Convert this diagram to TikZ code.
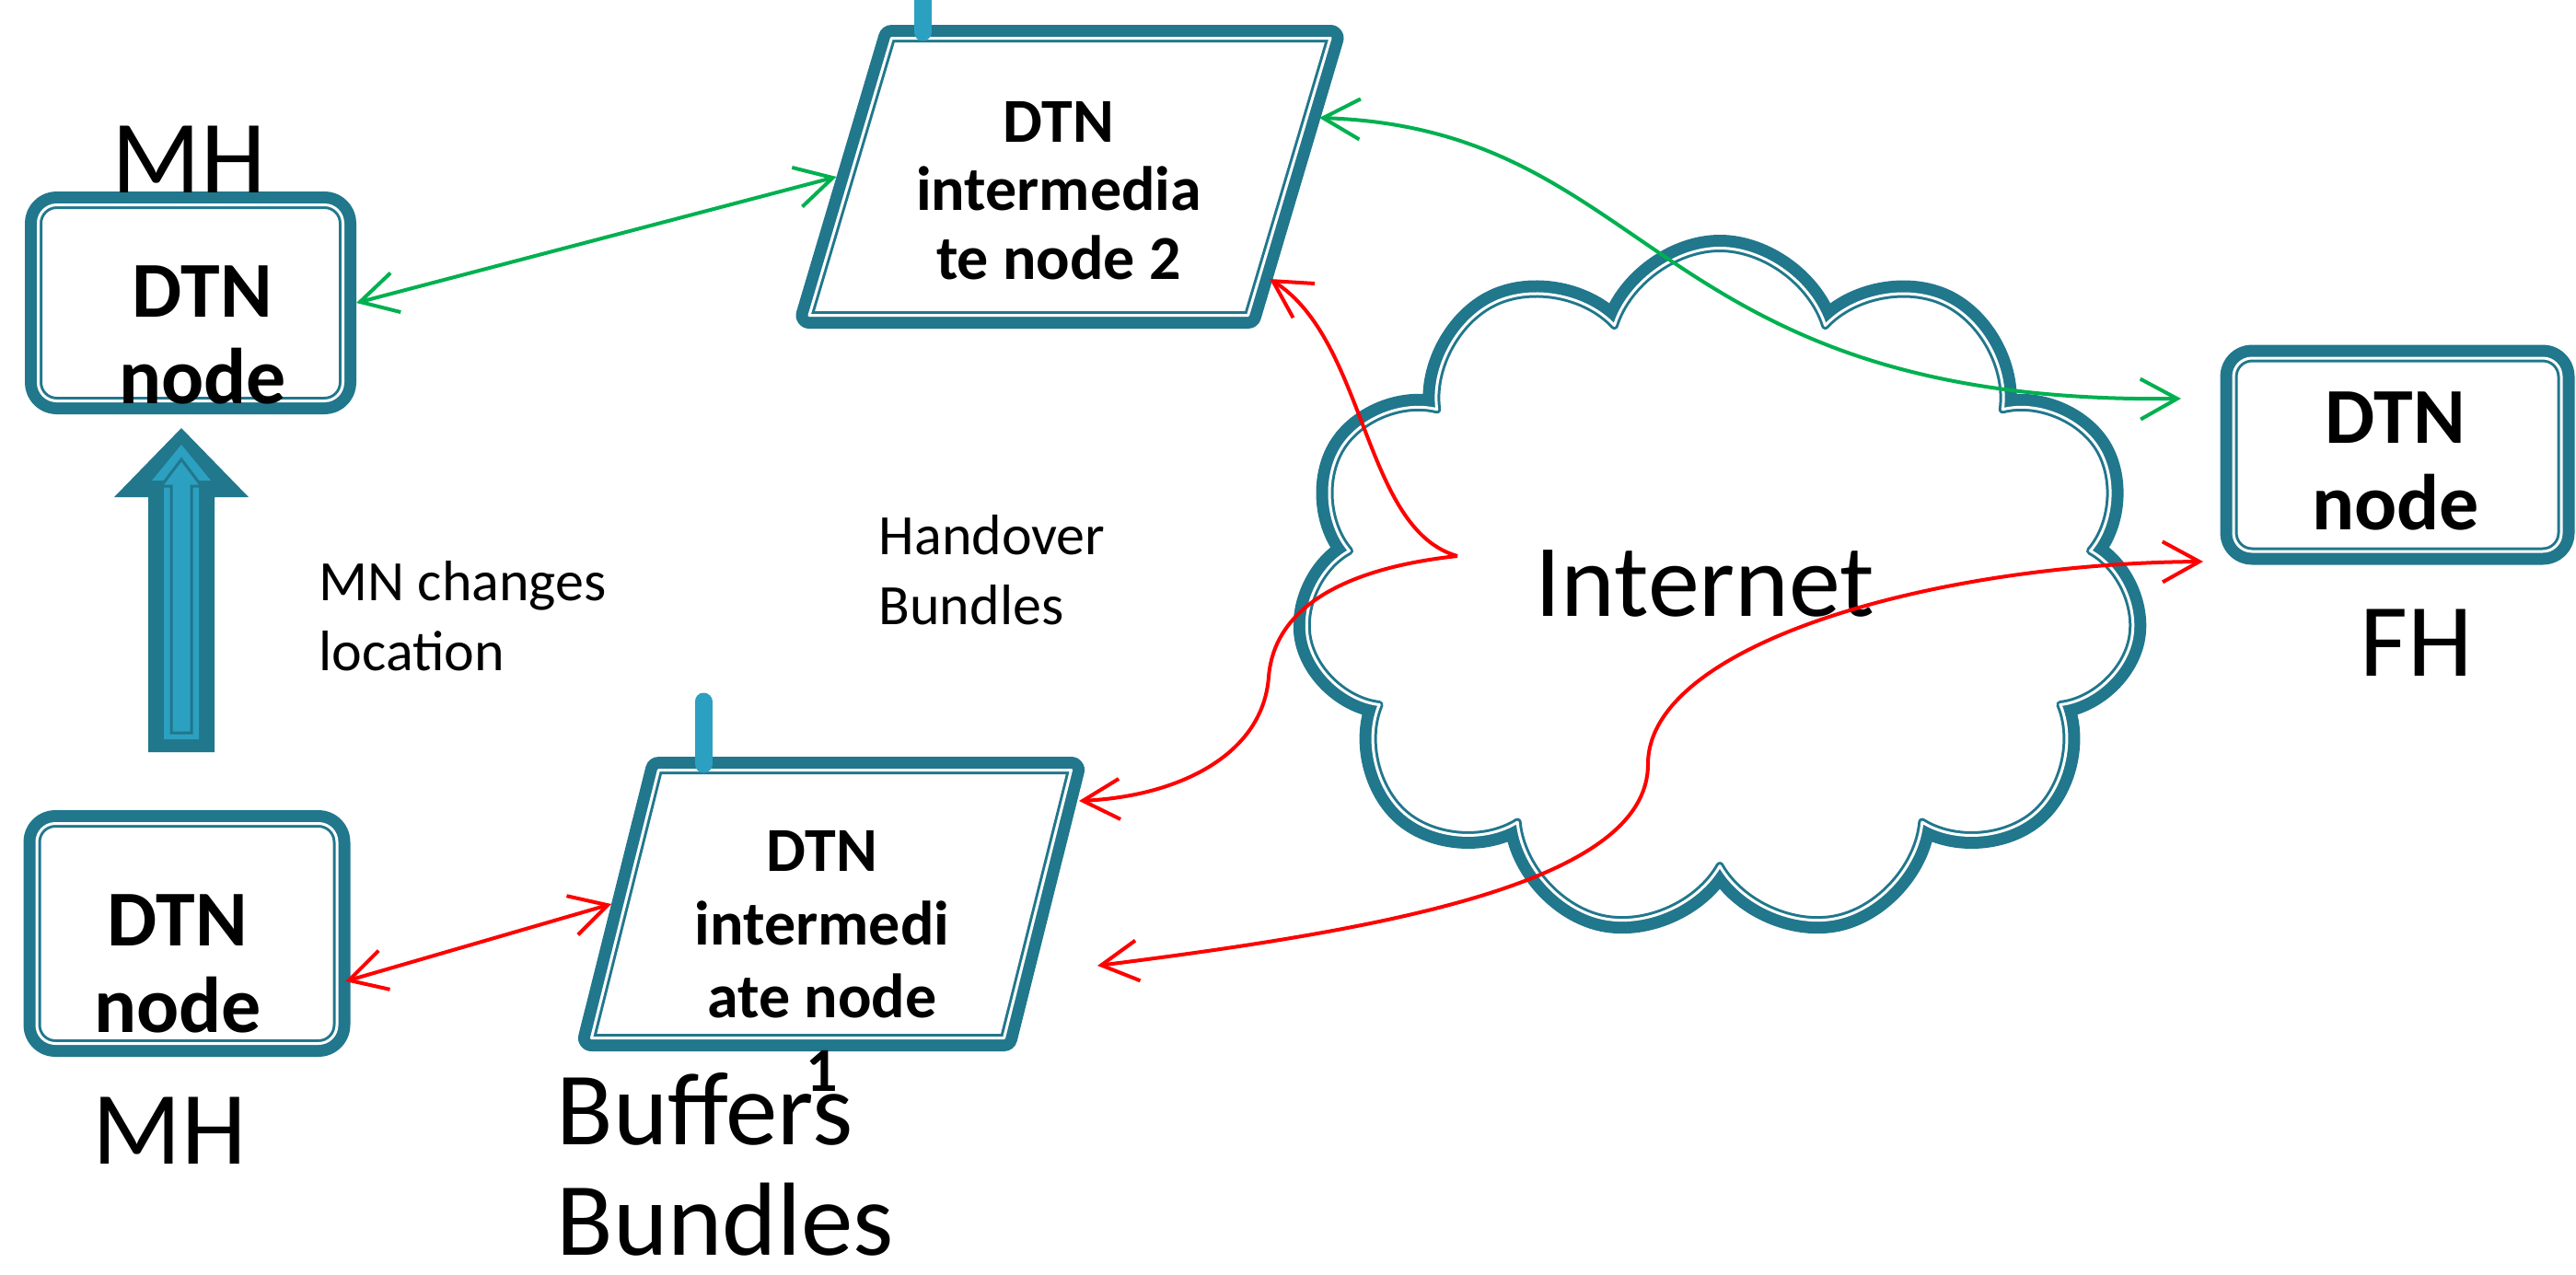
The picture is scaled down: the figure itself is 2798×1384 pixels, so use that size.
\documentclass[tikz,border=0pt]{standalone}
\usepackage{fontspec}
\setmainfont{Carlito}
\usepackage{color}
\definecolor{myteal}{RGB}{33,119,140}
\definecolor{mylightteal}{RGB}{44,160,192}
\definecolor{mygreen}{RGB}{0,176,80}
\definecolor{myred}{RGB}{255,0,0}
\usepackage{tikz}
\usetikzlibrary{shapes.geometric,shapes.symbols,arrows.meta,calc,positioning}

\newcommand{\mylabelfont}{\fontsize{11.3mm}{12mm}\selectfont}
\newcommand{\myboxfont}{\fontsize{8.6mm}{9.35mm}\selectfont\bfseries}
\newcommand{\myparafont}{\fontsize{6.8mm}{7.45mm}\selectfont\bfseries}
\newcommand{\mynotefont}{\fontsize{6.2mm}{7.55mm}\selectfont}

\begin{document}
\begin{tikzpicture}[
  x=0.1mm, y=0.1mm,
  myborder/.style={
    draw=myteal,
    line width=2.9mm,
    line join=round,
    postaction={fill=white},
    postaction={draw=myteal, line width=0.3mm, double=white, double distance=0.3mm}
    },
  mybox/.style={myborder, rectangle, rounded corners=2mm, inner sep=0pt},
  mypara/.style={
    myborder,
    trapezium,
    trapezium left angle=#1,
    trapezium right angle=180-#1,
    trapezium stretches=true,
    inner sep=2pt
    },
  mycloud/.style={myborder, cloud, cloud puffs=11, cloud puff arc=145, inner sep=0pt},
  mylabel/.style={font=\mylabelfont, inner sep=0pt},
  mytext/.style={font=\myboxfont, align=center, inner sep=0pt, anchor=base},
  myparatext/.style={font=\myparafont, align=center, inner sep=0pt, anchor=base},
  mynote/.style={font=\mynotefont, align=left, inner sep=0pt, anchor=base west},
  mylink/.style={line width=0.4mm,
    {Straight Barb[length=4mm,width=4.4mm]}-{Straight Barb[length=4mm,width=4.4mm]}},
  myonelink/.style={line width=0.4mm, -{Straight Barb[length=4mm,width=4.4mm]}},
  myantenna/.style={draw=mylightteal, line width=1.9mm, line cap=round}
]
\useasboundingbox (0,0) rectangle (2798,-1384);

% the internet
\node[mycloud, minimum width=90.4mm, minimum height=74.3mm] (inet) at (1868,-641) {};
\node[mylabel, font=\fontsize{11.2mm}{12mm}\selectfont] (inettext) at (1852,-634) {Internet};

% hosts
\node[mybox, minimum width=33.1mm, minimum height=21.3mm] (mhtop) at (207,-329) {};
\node[mybox, minimum width=32.6mm, minimum height=23.9mm] (mhbot) at (203,-1014) {};
\node[mybox, minimum width=35.6mm, minimum height=21.0mm] (fh) at (2604,-494) {};

% intermediate nodes
\node[mypara=77, minimum width=56.6mm, minimum height=30.1mm] (n2) at (1162,-192) {};
\node[mypara=79, minimum width=52.1mm, minimum height=29.1mm] (n1) at (903,-982) {};
\draw[myantenna] ($(n2.center)+(-160,157)$) -- ++(0,45);
\draw[myantenna] ($(n1.center)+(-139,152)$) -- ++(0,68);

% movement of the mobile host
\coordinate (movebase) at ($(mhbot.north)+(-6,63)$);
\begin{scope}[shift={(movebase)}]
  \fill[myteal] (-36,0) -- (-36,277) -- (-73,277) -- (0,352) -- (73,277) -- (36,277) -- (36,0) -- cycle;
  \fill[mylightteal] (-19,14) -- (-19,295) -- (-32,295) -- (0,334) -- (32,295) -- (19,295) -- (19,14) -- cycle;
  \draw[myteal, line width=0.3mm] (-11,21) -- (-11,289) -- (-22,289) -- (0,318) -- (22,289) -- (11,289) -- (11,21) -- cycle;
\end{scope}

% texts
\node[mytext] (mhtoptext) at (220,-438) {DTN\\node};
\node[mytext] (mhbottext) at (193,-1121) {DTN\\node};
\node[mytext] (fhtext) at (2602,-575) {DTN\\node};
\node[myparatext] (n2text) at (1150,-303) {DTN\\intermedia\\te node 2};
\node[myparatext, font=\fontsize{6.8mm}{7.95mm}\selectfont\bfseries]
  (n1text) at (893,-1185) {DTN\\intermedi\\ate node\\1};
\node[mylabel] (mhtoplabel) at (205,-173) {MH};
\node[mylabel] (mhbotlabel) at (184,-1228) {MH};
\node[mylabel] (fhlabel) at (2625,-698) {FH};
\node[mylabel, align=left, anchor=base west] (buffers) at (604,-1363) {Buffers\\Bundles};
\node[mynote] (moving) at (346,-728) {MN changes\\location};
\node[mynote] (handover) at (954,-678) {Handover\\Bundles};

% bundle paths
\coordinate (split) at ($(inet.center)+(-285,37)$);
\draw[mylink, mygreen] (mhtop.east) -- (n2.west);
\draw[mylink, mygreen] ($(n2.center)+(271,64)$)
  .. controls (1800,-140) and (1790,-440) .. ($(fh.center)+(-235,61)$);
\draw[mylink, myred] ($(mhbot.center)+(172,-52)$) -- (n1.west);
\draw[myonelink, myred] (split)
  .. controls (1480,-575) and (1485,-370) .. ($(n2.center)+(217,-111)$);
\draw[myonelink, myred] (split)
  .. controls (1480,-615) and (1385,-650) .. (1378,-735)
  .. controls (1372,-820) and (1280,-865) .. ($(n1.center)+(269,112)$);
\draw[mylink, myred] ($(n1.center)+(289,-67)$)
  .. controls (1500,-1010) and (1790,-960) .. (1790,-830)
  .. controls (1790,-700) and (2100,-612) .. ($(fh.center)+(-211,-116)$);
\end{tikzpicture}
\end{document}
